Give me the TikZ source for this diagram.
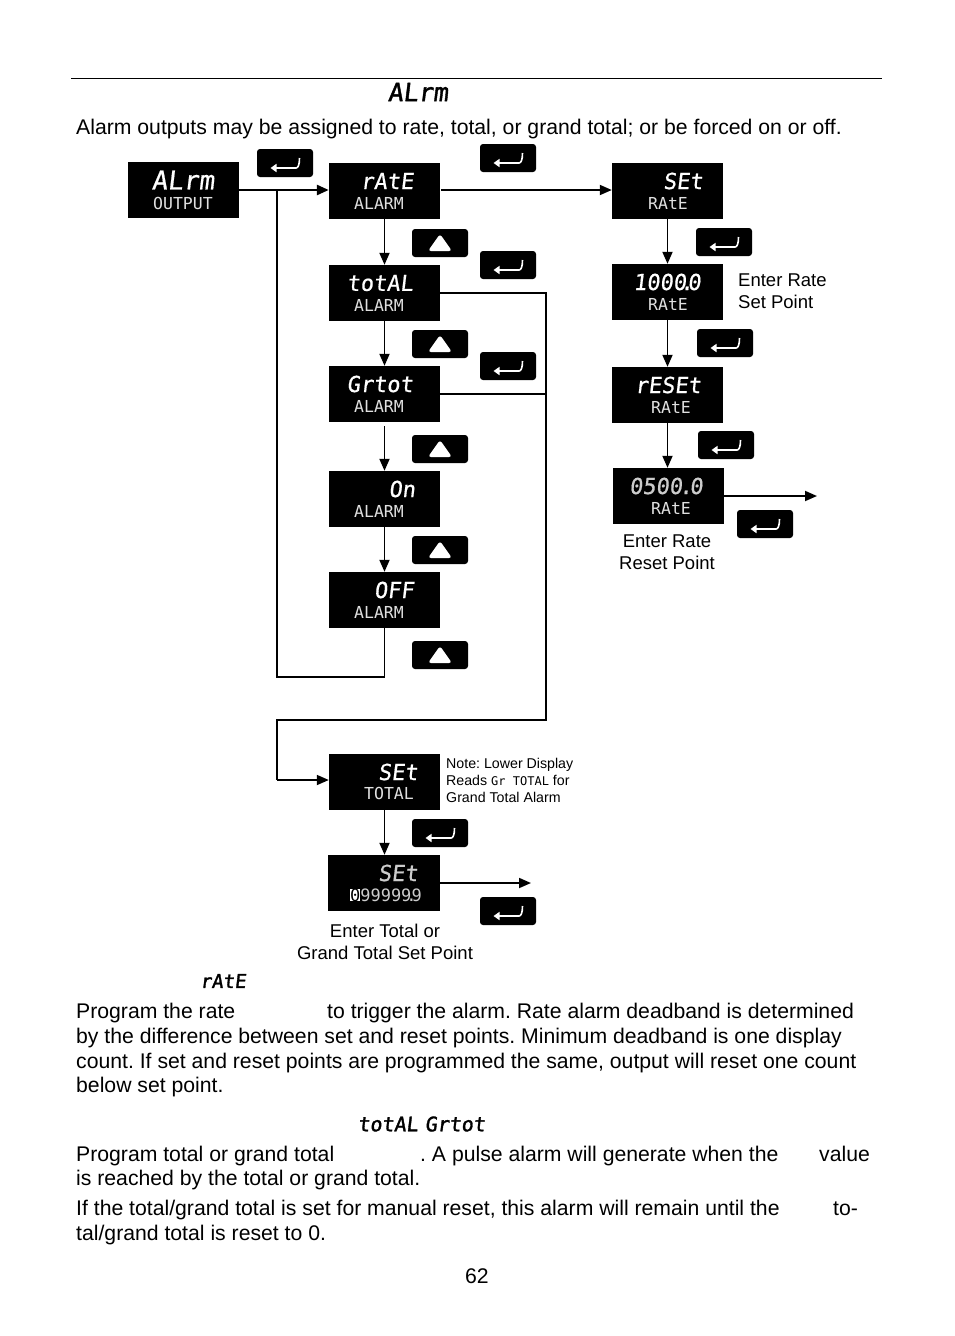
\documentclass[tikz,border=0pt]{standalone}
\usepackage{fontspec}
\setmainfont{Liberation Sans}
\newfontfamily\segfont[FakeSlant=0.12,FakeBold=0.6]{DejaVu Sans Mono}
\newfontfamily\headfont[FakeSlant=0.12,FakeBold=1.6]{DejaVu Sans Mono}
\newfontfamily\lowfont{DejaVu Sans Mono}
\usetikzlibrary{arrows.meta}
\frenchspacing
\setlength{\fboxsep}{0pt}
\tikzset{
  dispbox/.style = {fill=black, minimum width=111, minimum height=56, inner sep=0},
  upperseg/.style = {text=white, inner sep=0, font=\segfont\fontsize{22}{22}\selectfont},
  lowerseg/.style = {text=white!88!black, inner sep=0, font=\lowfont\fontsize{16.5}{16.5}\selectfont},
  enterkey/.style = {fill=black, rounded corners=3pt, minimum width=56, minimum height=28, inner sep=0,
    path picture={\draw[white, line width=1.6pt, {Triangle[length=6pt,width=8pt]}-, shift={(path picture bounding box.center)}]
      (-14.5,5) -- (8,5) .. controls (13,5) and (14.5,2) .. (14.5,-5);}},
  upkey/.style = {fill=black, rounded corners=3pt, minimum width=56, minimum height=28, inner sep=0,
    path picture={\fill[white, shift={(path picture bounding box.center)}] (-12,8) -- (12,8) -- (0,-9) -- cycle;}},
  flow/.style = {line width=1.8pt, -{Triangle[length=12pt,width=10pt]}},
  wire/.style = {line width=1.8pt},
  bodytext/.style = {anchor=base west, inner sep=0, font=\fontsize{21.2}{24}\selectfont},
  smalltext/.style = {inner sep=0, font=\fontsize{18.5}{22}\selectfont},
  notetext/.style = {anchor=base west, inner sep=0, font=\fontsize{14.2}{17}\selectfont},
  headseg/.style = {inner sep=0, font=\headfont\fontsize{19}{19}\selectfont}
}
\begin{document}
\begin{tikzpicture}[x=1pt, y=-1pt]
\useasboundingbox (0,0) rectangle (954,1336);
\fill[white] (0,0) rectangle (954,1336);
% page head
\coordinate (ruleL) at (71,78);
\coordinate (ruleR) at (882,78);
\draw[line width=0.9pt] (ruleL) -- (ruleR);
\node[headseg, font=\headfont\fontsize{25}{25}\selectfont] (headalrm) at (418,92) {ALrm};
\node[bodytext] (intro) at (76,134) {Alarm outputs may be assigned to rate, total, or grand total; or be forced on or off.};
% left column of displays
\node[dispbox] (alrm) at (183.5,190) {};
\node[upperseg, font=\segfont\fontsize{26}{26}\selectfont] (alrmU) at (183,180) {ALrm};
\node[lowerseg] (alrmL) at (183,203) {OUTPUT};
\node[dispbox] (rate) at (384.5,191) {};
\node[upperseg] (rateU) at (387,181) {rAtE};
\node[lowerseg] (rateL) at (379,203) {ALARM};
\node[dispbox] (total) at (384.5,293) {};
\node[upperseg] (totalU) at (380,283) {totAL};
\node[lowerseg] (totalL) at (379,305) {ALARM};
\node[dispbox] (grtot) at (384.5,394) {};
\node[upperseg] (grtotU) at (380,384) {Grtot};
\node[lowerseg] (grtotL) at (379,406) {ALARM};
\node[dispbox] (on) at (384.5,499) {};
\node[upperseg] (onU) at (402,489) {On};
\node[lowerseg] (onL) at (379,511) {ALARM};
\node[dispbox] (off) at (384.5,600) {};
\node[upperseg] (offU) at (394,590) {OFF};
\node[lowerseg] (offL) at (379,612) {ALARM};
% right column of displays
\node[dispbox] (setrate) at (667.5,191) {};
\node[upperseg] (setrateU) at (683,181) {SEt};
\node[lowerseg] (setrateL) at (668,203) {RAtE};
\node[dispbox] (thousand) at (667.5,292) {};
\node[upperseg] (thousandU) at (667,282) {1000\kern-6pt.\kern-6pt0};
\node[lowerseg] (thousandL) at (668,304) {RAtE};
\node[dispbox] (reset) at (667.5,395) {};
\node[upperseg] (resetU) at (668,385) {rESEt};
\node[lowerseg] (resetL) at (671,407) {RAtE};
\node[dispbox] (fivehundred) at (668.5,496) {};
\node[upperseg, text=white!80!black] (fivehundredU) at (666,486) {0500\kern-3pt.\kern-3pt0};
\node[lowerseg] (fivehundredL) at (671,508) {RAtE};
% lower displays
\node[dispbox] (settotal) at (384.5,782) {};
\node[upperseg] (settotalU) at (398,772) {SEt};
\node[lowerseg] (settotalL) at (389,793) {TOTAL};
\node[dispbox, minimum width=112] (setvalue) at (384,883) {};
\node[upperseg, text=white!80!black] (setvalueU) at (398,873) {SEt};
\node[lowerseg, text=white!80!black, font=\lowfont\fontsize{17}{17}\selectfont] (setvalueL) at (386,895) {\colorbox{white}{\textcolor{black}{0}}99999\kern-5pt.\kern-5pt9};
% keys
\node[enterkey] (key1) at (285,163) {};
\node[enterkey] (key2) at (508,158) {};
\node[upkey] (key3) at (440,243) {};
\node[enterkey] (key4) at (508,265) {};
\node[upkey] (key5) at (440,344) {};
\node[enterkey] (key6) at (508,366) {};
\node[upkey] (key7) at (440,449) {};
\node[upkey] (key8) at (440,550) {};
\node[upkey] (key9) at (440,655) {};
\node[enterkey] (key10) at (724,242) {};
\node[enterkey] (key11) at (725,343) {};
\node[enterkey] (key12) at (726,445) {};
\node[enterkey] (key13) at (765,524) {};
\node[enterkey] (key14) at (440,833) {};
\node[enterkey] (key15) at (508,911) {};
% connectors
\draw[flow, line width=2.6pt] (alrm.east |- 0,190) -- (rate.west |- 0,190);
\draw[flow] (441,190) -- (setrate.west |- 0,190);
\draw[flow] (rate.south) -- (total.north);
\draw[flow] (total.south) -- (grtot.north);
\coordinate (grtotGap) at (384.5,426);
\draw[flow] (grtotGap) -- (on.north);
\draw[flow] (on.south) -- (off.north);
\coordinate (joinL) at (277,190);
\draw[wire] (off.south) |- (277,677) -- (joinL);
\coordinate (busR) at (546,293);
\draw[wire] (total.east) -- (busR) -- (546,720) -- (277,720) -- (277,780);
\draw[flow] (277,780) -- (settotal.west |- 0,780);
\draw[wire] (grtot.east) -- (grtot.east -| busR);
\draw[flow] (settotal.south) -- (settotal.south |- setvalue.north);
\coordinate (totalOut) at (531,883);
\draw[flow] (setvalue.east) -- (totalOut);
\draw[flow] (setrate.south) -- (thousand.north);
\draw[flow] (thousand.south) -- (reset.north);
\draw[flow] (reset.south) -- (reset.south |- fivehundred.north);
\coordinate (rateOut) at (817,496);
\draw[flow] (fivehundred.east) -- (rateOut);
% labels
\node[smalltext, anchor=west, align=left] (enterset) at (738,291) {Enter Rate\\Set Point};
\node[smalltext, align=center] (enterreset) at (667,552) {Enter Rate\\Reset Point};
\node[smalltext, align=center] (entertotal) at (385,942) {Enter Total or\\Grand Total Set Point};
\node[notetext] (note1) at (446,768) {Note: Lower Display};
\node[notetext] (note2) at (446,785) {Reads {\lowfont\fontsize{12}{12}\selectfont Gr TOTAL} for};
\node[notetext] (note3) at (446,802) {Grand Total Alarm};
% text below
\node[headseg] (headrate) at (223,981) {rAtE};
\node[bodytext] (b1a) at (76,1018) {Program the rate};
\node[bodytext] (b1b) at (327,1018) {to trigger the alarm. Rate alarm deadband is determined};
\node[bodytext] (b2) at (76,1043) {by the difference between set and reset points. Minimum deadband is one display};
\node[bodytext] (b3) at (76,1068) {count. If set and reset points are programmed the same, output will reset one count};
\node[bodytext] (b4) at (76,1092) {below set point.};
\node[headseg, font=\headfont\fontsize{20}{20}\selectfont] (headtotal) at (421.5,1124) {totAL\kern7pt Grtot};
\node[bodytext] (c1a) at (76,1161) {Program total or grand total};
\node[bodytext] (c1b) at (420,1161) {. A pulse alarm will generate when the};
\node[bodytext] (c1c) at (819,1161) {value};
\node[bodytext] (c2) at (76,1185) {is reached by the total or grand total.};
\node[bodytext] (d1a) at (76,1215) {If the total/grand total is set for manual reset, this alarm will remain until the};
\node[bodytext] (d1b) at (833,1215) {to-};
\node[bodytext] (d2) at (76,1240) {tal/grand total is reset to 0.};
\node[bodytext] (pagenum) at (465,1283) {62};
\end{tikzpicture}
\end{document}
